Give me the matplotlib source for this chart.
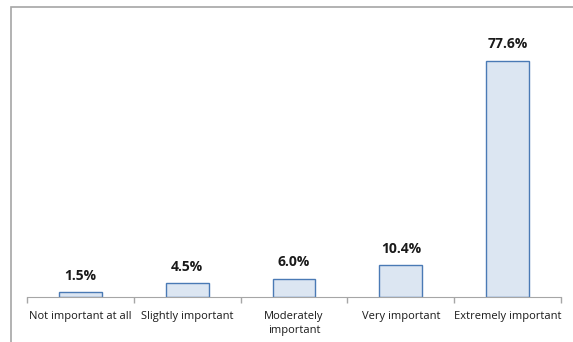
import matplotlib.pyplot as plt
import numpy as np
from matplotlib.patches import Rectangle

categories = ['Not important at all', 'Slightly important', 'Moderately\nimportant',
              'Very important', 'Extremely important']
values = [1.5, 4.5, 6.0, 10.4, 77.6]

W, H = 573, 342
fig = plt.figure(figsize=(W / 100, H / 100), dpi=100)
plt.rcParams['font.family'] = ['Open Sans', 'DejaVu Sans']

# chart-area frame (only top and left edges fall inside the canvas)
fig.patches.append(Rectangle((11 / W, -0.1), 1.2, (H - 7) / H + 0.1, transform=fig.transFigure,
                             fill=False, edgecolor='#a6a6a6', linewidth=1.2))

ymax = 90
left, right, bottom = 27, 561, 297
top = bottom - ymax * (bottom - 61) / 77.6
ax = fig.add_axes([left / W, 1 - bottom / H, (right - left) / W, (bottom - top) / H])

x = np.arange(len(categories))
ax.bar(x, values, width=0.4, color='#dce6f2', edgecolor='#4a7ab5', linewidth=1.0)
for xi, v in zip(x, values):
    ax.annotate(f'{v:.1f}%', (xi, v), xytext=(0, 7), textcoords='offset points',
                ha='center', va='bottom', fontsize=10, fontweight='bold', color='#1a1a1a')

ax.set_xlim(-0.5, len(categories) - 0.5)
ax.set_ylim(0, ymax)
ax.set_yticks([])
ax.set_xticks(x)
ax.set_xticklabels(categories, fontsize=8, color='#1a1a1a', linespacing=1.45)
ax.set_xticks(np.arange(len(categories) + 1) - 0.5, minor=True)
ax.tick_params(axis='x', which='major', length=0, pad=10)
ax.tick_params(axis='x', which='minor', length=4, color='#a6a6a6', width=1)
for s in ['top', 'right', 'left']:
    ax.spines[s].set_visible(False)
ax.spines['bottom'].set_color('#a6a6a6')
ax.patch.set_visible(False)

fig.savefig('out.png', dpi=100)
